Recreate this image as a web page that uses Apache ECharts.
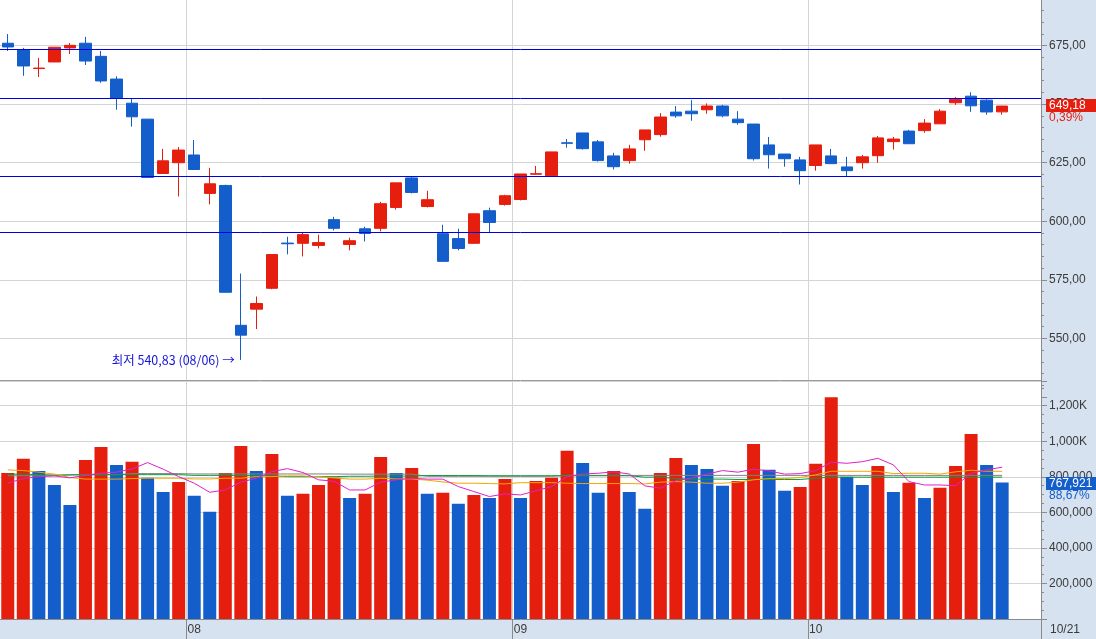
<!DOCTYPE html>
<html><head><meta charset="utf-8">
<script src="https://cdn.jsdelivr.net/npm/echarts@6/dist/echarts.min.js"></script>
<style>html,body{margin:0;padding:0;background:#fff}#c{width:1096px;height:639px}</style>
</head><body><div id="c"></div>
<script>
// ---- data ----
const dates = ['07/16','07/17','07/18','07/19','07/22','07/23','07/24','07/25','07/26','07/29','07/30','07/31',
 '08/01','08/02','08/05','08/06','08/07','08/08','08/09','08/12','08/13','08/14','08/16','08/19','08/20','08/21','08/22','08/23','08/26','08/27','08/28','08/29','08/30',
 '09/02','09/03','09/04','09/05','09/06','09/09','09/10','09/11','09/12','09/13','09/16','09/19','09/20','09/23','09/24','09/25','09/26','09/27','09/30',
 '10/01','10/02','10/04','10/07','10/08','10/10','10/11','10/14','10/15','10/16','10/17','10/18','10/21'];
const opens  = [676.0,673.3,665.2,668.0,674.0,676.0,670.4,660.7,650.4,643.6,620.4,625.0,628.3,611.9,615.3,555.6,562.5,571.4,590.7,590.6,589.7,600.7,590.1,596.8,597.0,605.9,618.5,606.3,594.7,592.6,590.6,604.5,607.2,609.3,620.1,619.5,633.5,637.7,633.9,627.9,625.9,634.8,637.0,646.6,647.0,647.6,649.2,643.6,641.5,632.6,628.7,626.2,623.8,627.9,623.2,625.0,628.0,634.0,638.5,638.7,641.6,650.6,653.4,651.7,646.7];
const closes = [674.4,666.3,665.4,674.3,675.1,668.4,659.9,652.4,644.6,618.7,625.8,630.4,622.1,616.0,569.7,551.4,564.9,585.8,590.4,594.3,590.9,597.0,591.7,594.8,607.5,616.4,612.3,609.2,582.9,588.4,603.2,599.5,610.9,620.2,620.3,629.6,633.3,631.0,625.9,623.3,630.9,639.0,644.5,645.0,645.9,649.2,645.0,642.1,626.7,628.4,626.7,621.6,632.6,624.6,621.6,627.5,635.6,635.1,633.1,641.9,647.0,652.1,649.3,646.66,649.18];
const lows   = [672.7,662.1,661.6,668.0,671.4,666.7,659.1,647.6,640.4,618.7,620.4,610.6,622.1,607.2,569.7,540.83,554.0,571.0,585.9,585.0,588.4,596.1,587.6,591.4,595.7,605.0,611.9,605.9,582.9,587.6,590.6,595.4,606.7,608.9,619.8,619.5,631.4,630.6,625.5,622.1,624.6,630.1,636.1,644.2,642.9,645.9,644.4,641.2,625.9,622.5,623.3,615.7,621.6,624.6,619.3,622.5,625.0,630.6,633.1,637.8,641.6,649.7,646.7,645.5,645.5];
const highs  = [679.9,674.0,669.7,674.3,676.1,678.7,672.7,661.9,652.4,643.6,630.9,631.7,634.7,622.8,615.6,577.7,567.9,585.8,593.4,595.4,594.3,601.9,593.0,597.7,608.3,616.4,619.0,613.0,598.5,596.8,603.2,605.8,611.3,620.2,623.6,629.6,635.1,637.7,634.7,629.2,632.6,639.0,646.2,649.2,651.7,650.3,649.7,647.0,641.5,636.0,628.7,627.5,632.6,630.9,627.5,628.3,636.4,636.0,639.0,643.6,647.9,653.0,655.1,652.1,649.18];
const volumes = [822000,901000,833000,754000,642000,895000,968000,867000,884000,794000,715000,771000,693000,603000,822000,974000,833000,929000,693000,704000,754000,794000,681000,704000,912000,822000,850000,704000,710000,648000,698000,681000,788000,681000,777000,794000,946000,878000,710000,833000,715000,620000,822000,906000,867000,844000,749000,777000,985000,839000,721000,743000,873000,1248000,800000,754000,861000,715000,766000,681000,738000,861000,1041000,866043,767921];
// volume moving averages (thousands)
const volMA5   = [764,790,801,805,794,809,820,826,844,880,843,801,764,713,726,770,792,829,846,824,783,775,726,726,770,783,792,787,787,745,717,689,704,698,721,745,801,816,820,828,816,749,736,779,792,815,835,826,843,833,815,818,835,882,876,885,904,867,773,754,754,750,820,839,854];
const volMA20  = [839,835,826,815,796,787,787,787,790,792,792,792,788,788,792,792,801,801,805,805,800,794,787,787,792,788,788,781,771,764,764,762,760,767,767,767,764,762,762,762,762,760,770,773,770,764,764,770,783,790,790,796,811,831,831,831,831,818,820,820,815,828,837,831,831];
const volMA60  = [815,815,812,810,810,812,812,812,812,812,812,812,808,808,808,808,806,806,801,801,801,801,803,803,804,804,804,807,807,807,807,806,806,806,806,806,806,806,806,806,806,798,798,790,787,787,787,785,785,785,785,785,792,798,798,798,798,798,798,798,798,798,798,798,798];
const volMA120 = [806,806,806,806,812,812,812,812,818,818,818,818,816,816,816,816,816,816,816,816,816,816,815,815,815,815,815,803,803,803,803,803,803,803,803,803,808,808,808,808,808,808,808,808,808,808,808,808,808,808,808,808,808,808,808,808,808,808,808,808,808,808,808,808,808];
const levelLines = [673.3, 652.4, 619.3, 595.4];

// ---- styling ----
const UP = '#e61e0e', DOWN = '#135ecb';
const GRID = '#d4d4d4', AXIS = '#8a8a8a', TXT = '#3a3a3a', STRIP = '#d6e2f0';
const FONT = "'Liberation Sans',sans-serif";
const FS = 12;
const N = dates.length;
const cats = dates.concat(['', '']);
const isMonthStart = (i) => i > 0 && i < N && dates[i].slice(0, 2) !== dates[i - 1].slice(0, 2);
const fmtP = (v) => v.toFixed(2).replace('.', ',');
const fmtV = (v) => v >= 1000000 ? (v / 1000).toLocaleString('en-US') + 'K' : v.toLocaleString('en-US');
const k = (a) => a.map(v => v * 1000);
const LEVEL = '#0000e6';

let minIdx = 0;
lows.forEach((v, i) => { if (v < lows[minIdx]) minIdx = i; });

const chart = echarts.init(document.getElementById('c'), null, {renderer: 'canvas'});
chart.setOption({
  animation: false,
  backgroundColor: '#fff',
  grid: [
    {left: 0, width: 1041, top: -13, height: 410, outerBoundsMode: 'none', containLabel: false},
    {left: 0, width: 1041, top: 381, height: 238, outerBoundsMode: 'none', containLabel: false}
  ],
  xAxis: [
    {type: 'category', gridIndex: 0, data: cats, boundaryGap: true,
     axisLine: {show: false}, axisTick: {show: false}, axisLabel: {show: false},
     splitLine: {show: true, interval: (i) => isMonthStart(i), lineStyle: {color: GRID, width: 1}}},
    {type: 'category', gridIndex: 1, data: cats, boundaryGap: true,
     axisLine: {show: true, lineStyle: {color: AXIS, width: 1}},
     axisTick: {show: true, interval: (i) => isMonthStart(i), length: 20, lineStyle: {color: AXIS}},
     axisLabel: {show: true, interval: (i) => isMonthStart(i), formatter: (v) => v.slice(0, 2),
       margin: 5, color: TXT, fontSize: FS, fontFamily: FONT},
     splitLine: {show: true, interval: (i) => isMonthStart(i), lineStyle: {color: GRID, width: 1}}}
  ],
  yAxis: [
    {type: 'value', gridIndex: 0, position: 'right', min: 525, max: 700, interval: 25,
     axisLine: {show: true, lineStyle: {color: AXIS}},
     axisTick: {show: true, length: 6, lineStyle: {color: AXIS}},
     minorTick: {show: true, splitNumber: 5, length: 3, lineStyle: {color: AXIS}},
     axisLabel: {formatter: fmtP, showMinLabel: false, showMaxLabel: false, margin: 8,
       color: TXT, fontSize: FS, fontFamily: FONT},
     splitLine: {show: true, lineStyle: {color: ['rgba(0,0,0,0)', GRID, GRID, GRID, GRID, GRID, GRID, 'rgba(0,0,0,0)'], width: 1}}},
    {type: 'value', gridIndex: 1, position: 'right', min: 0, max: 1339000, interval: 200000,
     axisLine: {show: true, lineStyle: {color: AXIS}},
     axisTick: {show: true, length: 6, lineStyle: {color: AXIS}},
     minorTick: {show: true, splitNumber: 4, length: 3, lineStyle: {color: AXIS}},
     axisLabel: {formatter: fmtV, showMinLabel: false, showMaxLabel: false, margin: 8,
       color: TXT, fontSize: FS, fontFamily: FONT},
     splitLine: {show: true, lineStyle: {color: GRID, width: 1}}}
  ],
  series: [
    {type: 'candlestick', xAxisIndex: 0, yAxisIndex: 0, barWidth: 12,
     data: opens.map((o, i) => [o, closes[i], lows[i], highs[i]]),
     itemStyle: {color: UP, color0: DOWN, borderColor: UP, borderColor0: DOWN, borderWidth: 1},
     markLine: {silent: true, symbol: ['none', 'none'], label: {show: false},
       lineStyle: {color: LEVEL, width: 1, type: 'solid'},
       data: levelLines.map(v => ({yAxis: v, lineStyle: {color: LEVEL, width: 1, type: 'solid'}}))},
     markPoint: {silent: true, symbol: 'circle', symbolSize: 0,
       data: [{coord: [minIdx, lows[minIdx]]}],
       label: {show: true, position: 'left', distance: 6,
         formatter: '최저 ' + fmtP(lows[minIdx]) + ' (' + dates[minIdx] + ') →',
         color: '#1515d8', fontSize: 12.5, fontFamily: "'Noto Sans CJK KR',sans-serif"}}},
    {type: 'bar', xAxisIndex: 1, yAxisIndex: 1, barWidth: 13,
     data: volumes.map((v, i) => ({value: v, itemStyle: {color: (i === 0 || v >= volumes[i - 1]) ? UP : DOWN}}))},
    {type: 'line', xAxisIndex: 1, yAxisIndex: 1, data: k(volMA120), symbol: 'none', silent: true, lineStyle: {color: '#808080', width: 1}},
    {type: 'line', xAxisIndex: 1, yAxisIndex: 1, data: k(volMA60), symbol: 'none', silent: true, lineStyle: {color: '#0c9a3c', width: 1}},
    {type: 'line', xAxisIndex: 1, yAxisIndex: 1, data: k(volMA20), symbol: 'none', silent: true, lineStyle: {color: '#f0a800', width: 1}},
    {type: 'line', xAxisIndex: 1, yAxisIndex: 1, data: k(volMA5), symbol: 'none', silent: true, lineStyle: {color: '#e020c8', width: 1}}
  ]
});

const lastC = closes[N - 1], prevC = closes[N - 2];
const lastV = volumes[N - 1], prevV = volumes[N - 2];
const yP = chart.convertToPixel({yAxisIndex: 0}, lastC);
const yV = chart.convertToPixel({yAxisIndex: 1}, lastV);
const tf = FS + 'px ' + FONT;
chart.setOption({
  graphic: [
    {type: 'rect', z: -5, silent: true, shape: {x: 1041, y: 0, width: 55, height: 639}, style: {fill: STRIP}},
    {type: 'rect', z: -5, silent: true, shape: {x: 0, y: 620, width: 1096, height: 19}, style: {fill: STRIP}},
    {type: 'line', z: 5, silent: true, shape: {x1: 0, y1: 380.5, x2: 1041, y2: 380.5}, style: {stroke: '#9a9a9a', lineWidth: 1}},
    {type: 'text', z: 5, silent: true, x: 1050, y: 630, style: {text: dates[N - 1], fill: TXT, font: tf, verticalAlign: 'middle'}},
    {type: 'rect', z: 10, silent: true, shape: {x: 1046, y: Math.round(yP) - 7, width: 50, height: 13}, style: {fill: UP}},
    {type: 'text', z: 11, silent: true, x: 1049, y: Math.round(yP) - 0.5, style: {text: fmtP(lastC), fill: '#fff', font: tf, verticalAlign: 'middle'}},
    {type: 'text', z: 11, silent: true, x: 1049, y: Math.round(yP) + 11.5, style: {text: fmtP((lastC / prevC - 1) * 100) + '%', fill: UP, font: tf, verticalAlign: 'middle'}},
    {type: 'rect', z: 10, silent: true, shape: {x: 1046, y: Math.round(yV) - 6, width: 50, height: 13}, style: {fill: DOWN}},
    {type: 'text', z: 11, silent: true, x: 1049, y: Math.round(yV) + 0.5, style: {text: lastV.toLocaleString('en-US'), fill: '#fff', font: tf, verticalAlign: 'middle'}},
    {type: 'text', z: 11, silent: true, x: 1049, y: Math.round(yV) + 12.5, style: {text: fmtP(lastV / prevV * 100) + '%', fill: DOWN, font: tf, verticalAlign: 'middle'}}
  ]
});
</script></body></html>
